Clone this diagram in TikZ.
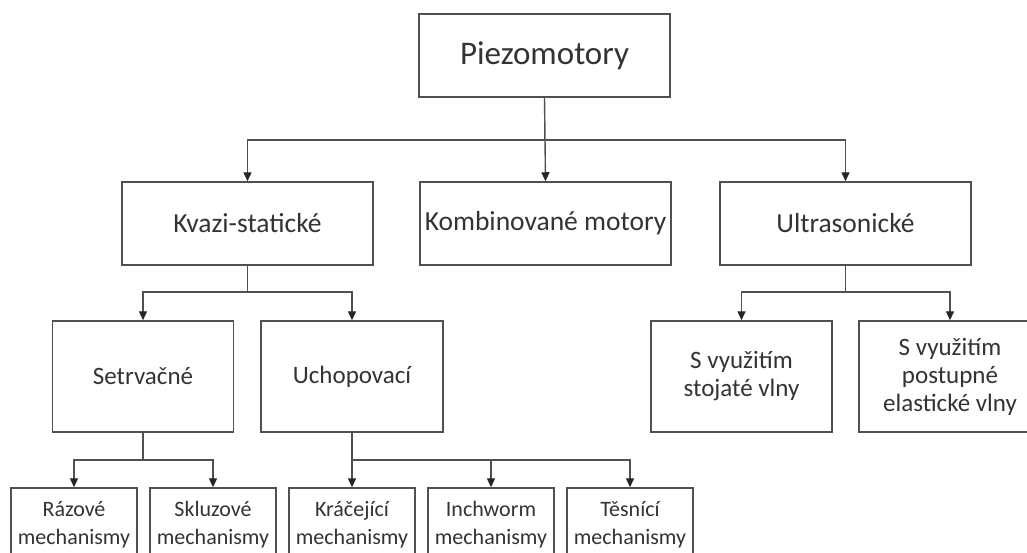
\documentclass[tikz,border=0pt]{standalone}
\usepackage{fontspec}
\setmainfont{Carlito}
\usetikzlibrary{arrows.meta}
\definecolor{txt}{HTML}{333333}
\definecolor{ln}{HTML}{505050}
\begin{document}
\begin{tikzpicture}[x=1pt,y=-1pt,
  box/.style={draw=ln,line width=1.5pt,rectangle,inner sep=0pt,align=center,text=txt},
  lvlA/.style={box,minimum width=251pt,minimum height=83pt,font=\fontsize{33}{38}\selectfont},
  lvlB/.style={box,minimum width=251pt,minimum height=83pt,font=\fontsize{27.5}{30}\selectfont},
  lvlC/.style={box,minimum width=181pt,minimum height=111pt,font=\fontsize{25}{28}\selectfont},
  lvlD/.style={box,minimum width=126pt,minimum height=74pt,font=\fontsize{22}{28}\selectfont},
  conn/.style={draw=ln,line width=1.4pt},
  arr/.style={conn,-{Triangle[width=8pt,length=9pt,color=black!85]}}]
\path[use as bounding box,clip] (0,0) rectangle (1027,552);
\fill[white] (0,0) rectangle (1027,552);
% nodes
\node[lvlA] (piezo) at (544.5,55.5) {Piezomotory};
\node[lvlB] (kvazi) at (247.5,223.5) {Kvazi-statické};
\node[lvlB] (kombi) at (545.5,223.5) {Kombinované motory};
\node[lvlB] (ultra) at (845.5,223.5) {Ultrasonické};
\node[lvlC] (setr) at (143,376.5) {Setrvačné};
\node[lvlC,minimum width=182pt] (ucho) at (352,376.5) {Uchopovací};
\node[lvlC] (stoj) at (741.5,376.5) {S využitím\\stojaté vlny};
\node[lvlC,minimum width=182pt] (post) at (950,376.5) {S využitím\\postupné\\elastické vlny};
\node[lvlD] (raz) at (74,525) {Rázové\\mechanismy};
\node[lvlD] (skl) at (213,525) {Skluzové\\mechanismy};
\node[lvlD] (krac) at (352,525) {Kráčející\\mechanismy};
\node[lvlD] (inch) at (491,525) {Inchworm\\mechanismy};
\node[lvlD] (tes) at (630,525) {Těsnící\\mechanismy};
% junctions
\coordinate (j1) at (544.5,140);
\coordinate (j2) at (247.5,292);
\coordinate (j3) at (845.5,292);
\coordinate (j4) at (143,460);
\coordinate (j5) at (352,460);
% connectors
\draw[conn] (piezo.south) -- (j1);
\draw[arr] (j1) -| (kvazi.north);
\draw[arr] (piezo.south) -- (kombi.north);
\draw[arr] (j1) -| (ultra.north);
\draw[conn] (kvazi.south) -- (j2);
\draw[arr] (j2) -| (setr.north);
\draw[arr] (j2) -| (ucho.north);
\draw[conn] (ultra.south) -- (j3);
\draw[arr] (j3) -| (stoj.north);
\draw[arr] (j3) -| (post.north);
\draw[conn] (setr.south) -- (j4);
\draw[arr] (j4) -| (raz.north);
\draw[arr] (j4) -| (skl.north);
\draw[arr] (ucho.south) -- (krac.north);
\draw[arr] (j5) -| (inch.north);
\draw[arr] (j5) -| (tes.north);
\end{tikzpicture}
\end{document}
